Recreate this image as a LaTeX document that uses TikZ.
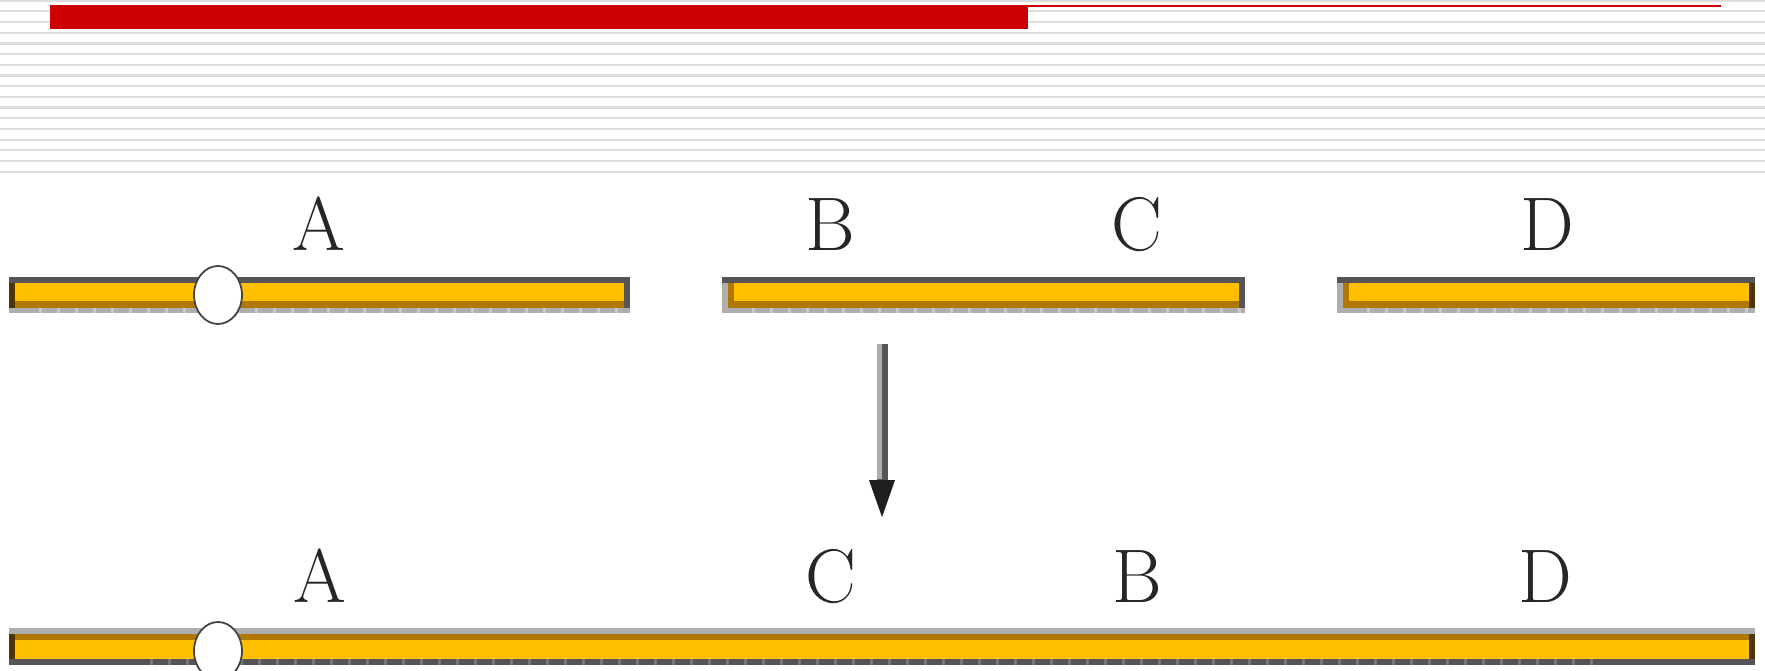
\documentclass[tikz,border=0pt]{standalone}
\usetikzlibrary{arrows.meta,shapes.geometric}

\definecolor{titlered}{HTML}{CC0000}
\definecolor{stripegray}{HTML}{DDDDDD}
\definecolor{barorange}{HTML}{FFBF00}
\definecolor{bardarkorange}{HTML}{B07800}
\definecolor{rimdark}{HTML}{555555}
\definecolor{rimlight}{HTML}{AEAEAE}
\definecolor{rimgaplight}{HTML}{C8C8C8}
\definecolor{rimgapdark}{HTML}{777777}
\definecolor{edgebrown}{HTML}{4D3600}
\definecolor{holeline}{HTML}{444444}

\tikzset{
  stripe/.style={stripegray, line width=2.2pt},
  lbl/.style={anchor=base, inner sep=0pt, text=black!85,
              font=\fontsize{76}{80}\selectfont},
  hole/.style={ellipse, draw=holeline, line width=1.8pt, fill=white,
               minimum width=48pt, minimum height=58pt, inner sep=0pt},
  shaft/.style={rimdark, line width=11pt,
                -{Triangle[length=42pt,width=22pt,color=black!88]}},
  shaftlite/.style={rimlight, line width=5.5pt},
  gapslight/.style={rimgaplight, line width=5pt, dash pattern=on 3pt off 15pt},
  gapsdark/.style={rimgapdark, line width=6pt, dash pattern=on 3pt off 15pt},
}

\begin{document}
\begin{tikzpicture}[x=1pt,y=-1pt]
  \useasboundingbox (0,0) rectangle (1765,671);
  \fill[white] (0,0) rectangle (1765,671);

  % ruled header
  \foreach \k in {0,...,16}
    \draw[stripe] (0,0.7+10.69*\k) -- (1765,0.7+10.69*\k);
  \fill[titlered] (50,5) rectangle (1028,29);
  \fill[titlered] (1028,4.7) rectangle (1721,7.4);

  % three separate segments
  \foreach \xa/\xb/\le/\re in {9/630/edgebrown/rimdark,
                               722/1245/rimlight/rimdark,
                               1337/1755/rimlight/edgebrown} {
    \fill[barorange] (\xa,277) rectangle (\xb,313);
    \fill[bardarkorange] (\xa,301) rectangle (\xb,308);
    \fill[rimdark] (\xa,277) rectangle (\xb,283);
    \fill[rimlight] (\xa,308) rectangle (\xb,313);
    \draw[gapslight] (\xa+30,310.5) -- (\xb,310.5);
    \fill[\le] (\xa,283) rectangle (\xa+6,308);
    \fill[\re] (\xb-6,283) rectangle (\xb,308);
  }
  \fill[bardarkorange] (728,283) rectangle (734,308);
  \fill[bardarkorange] (1343,283) rectangle (1349,308);
  \node[hole] (h1) at (218,295) {};

  % joined segment
  \fill[barorange] (9,628) rectangle (1755,665);
  \fill[rimlight] (9,628) rectangle (1755,634);
  \fill[bardarkorange] (9,634) rectangle (1755,640);
  \fill[rimdark] (9,659) rectangle (1755,665);
  \draw[gapsdark] (150,662) -- (1600,662);
  \fill[edgebrown] (9,634) rectangle (15,659);
  \fill[edgebrown] (1749,634) rectangle (1755,659);
  \node[hole] (h2) at (218,651) {};

  % labels
  \node[lbl] (a1) at (319,251) {A};
  \node[lbl] (b1) at (830,251) {B};
  \node[lbl] (c1) at (1137,251) {C};
  \node[lbl] (d1) at (1547,251) {D};
  \node[lbl] (a2) at (320,602) {A};
  \node[lbl] (c2) at (831,602) {C};
  \node[lbl] (b2) at (1137,602) {B};
  \node[lbl] (d2) at (1545,602) {D};

  % transition arrow
  \coordinate (arrtop) at (882,344);
  \coordinate (arrbot) at (882,522);
  \path (arrtop) -- (arrbot) coordinate[pos=0.76] (arrneck);
  \draw[shaft] (arrtop) -- (arrbot);
  \draw[shaftlite] ([xshift=-2.75pt]arrtop) -- ([xshift=-2.75pt]arrneck);
\end{tikzpicture}
\end{document}
